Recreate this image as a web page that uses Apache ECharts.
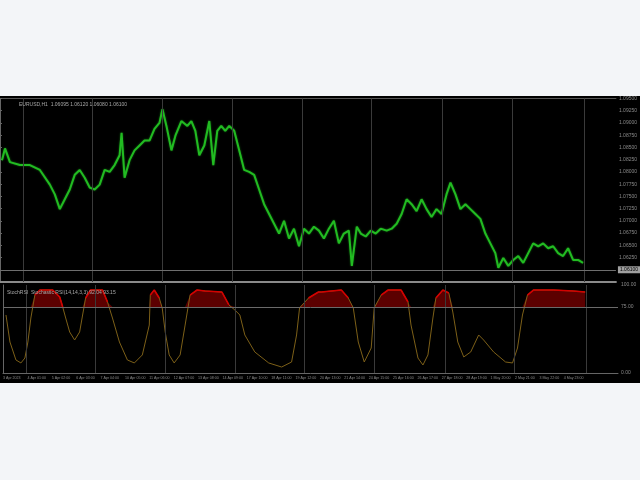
<!DOCTYPE html>
<html>
<head>
<meta charset="utf-8">
<script src="https://cdn.jsdelivr.net/npm/echarts@6/dist/echarts.min.js"></script>
<style>
  html, body { margin:0; padding:0; width:640px; height:480px; background:#f3f5f8; overflow:hidden; }
  #chart { position:absolute; left:0; top:96px; width:640px; height:287px; background:#000; }
</style>
</head>
<body>
<div id="chart"></div>
<script>
// ---- price window (bar number, close) ----
const bars = [2,5,10,20,30,40,50,55,60,65,70,75,80,85,90,95,100,105,110,115,120,122,125,130,135,140,145,150,155,160,163,167,172,176,182,188,192,196,200,205,210,214,218,222,226,230,235,240,245,250,255,260,265,270,275,280,285,290,295,300,305,310,315,320,325,330,335,340,345,350,353,358,362,367,372,377,382,388,393,398,403,408,413,418,423,428,433,438,443,448,452,457,462,467,472,477,482,487,492,497,500,505,510,515,520,525,530,535,540,545,550,555,560,565,570,575,580,585];
const closes = [1.0824,1.0848,1.0820,1.0814,1.0814,1.0804,1.0774,1.0754,1.0724,1.0744,1.0764,1.0794,1.0804,1.0788,1.0768,1.0764,1.0774,1.0804,1.0800,1.0814,1.0834,1.0880,1.0788,1.0824,1.0844,1.0854,1.0864,1.0864,1.0888,1.0900,1.0928,1.0894,1.0844,1.0874,1.0904,1.0894,1.0904,1.0884,1.0834,1.0854,1.0904,1.0814,1.0884,1.0894,1.0884,1.0894,1.0884,1.0844,1.0804,1.0800,1.0794,1.0764,1.0734,1.0714,1.0694,1.0674,1.0700,1.0664,1.0684,1.0648,1.0684,1.0674,1.0688,1.0680,1.0664,1.0684,1.0700,1.0654,1.0674,1.0680,1.0608,1.0688,1.0674,1.0668,1.0680,1.0674,1.0684,1.0680,1.0684,1.0694,1.0714,1.0744,1.0734,1.0720,1.0744,1.0724,1.0708,1.0724,1.0714,1.0754,1.0778,1.0754,1.0724,1.0734,1.0724,1.0714,1.0704,1.0674,1.0654,1.0634,1.0604,1.0624,1.0608,1.0620,1.0628,1.0614,1.0634,1.0654,1.0648,1.0654,1.0644,1.0648,1.0634,1.0628,1.0644,1.0620,1.0620,1.0614];
const bidPrice = 1.0610;

// ---- oscillator window ----
const oscBars = [3,7,13,18,22,25,28,32,37,50,57,60,63,67,72,77,80,83,88,100,105,110,117,125,132,140,147,148,152,157,160,163,167,172,178,183,188,195,203,220,227,233,238,243,253,267,280,290,295,298,307,317,320,340,347,352,357,363,370,373,380,387,400,407,410,417,422,427,432,435,442,448,452,457,463,470,478,483,493,505,512,517,522,527,533,553,573,585];
const oscValues = [65.9,35.2,14.8,11.4,17.0,35.2,62.5,88.6,94.3,94.3,86.4,75.0,62.5,46.6,37.5,46.6,65.9,85.2,94.3,94.3,80.7,62.5,35.2,14.8,11.4,20.5,54.5,88.6,94.3,85.2,73.9,46.6,20.5,11.4,20.5,54.5,88.6,94.3,93.2,92.0,77.3,71.6,65.9,43.2,23.9,11.4,6.8,12.5,43.2,73.9,85.2,92.0,92.0,94.3,85.2,73.9,35.2,12.5,28.4,73.9,88.6,94.3,94.3,80.7,54.5,17.0,9.1,20.5,62.5,85.2,94.3,90.9,69.3,35.2,18.2,23.9,43.2,37.5,23.9,12.5,11.4,28.4,65.9,88.6,94.3,94.3,93.2,92.0];
const oscLevel = 75;

// ---- axes / labels ----
const gridTimes = [23,93,163,233,303,373,444,514,586];
const timeLabels = ['3 Apr 2023','4 Apr 01:00','5 Apr 02:00','6 Apr 03:00','7 Apr 04:00','10 Apr 05:00','11 Apr 06:00','12 Apr 07:00','13 Apr 08:00','14 Apr 09:00','17 Apr 10:00','18 Apr 11:00','19 Apr 12:00','20 Apr 13:00','21 Apr 14:00','24 Apr 15:00','25 Apr 16:00','26 Apr 17:00','27 Apr 18:00','28 Apr 19:00','1 May 20:00','2 May 21:00','3 May 22:00','4 May 23:00'];
const mainTitle = 'EURUSD,H1  1.06095 1.06120 1.06080 1.06100';
const oscTitle = 'StochRSI  Stochastic RSI(14,14,3,3) 92.04 93.15';

const pricePts = bars.map((b, i) => [b, closes[i]]);
const oscPts = oscBars.map((b, i) => [b, oscValues[i]]);
const oscFill = oscBars.map((b, i) => [b, Math.max(oscValues[i], oscLevel)]);
const oscRed = oscBars.map((b, i) => [b, oscValues[i] >= oscLevel ? oscValues[i] : null]);

const chart = echarts.init(document.getElementById('chart'), null, {renderer: 'canvas'});
const FONT = 'Liberation Sans';
const vlines = gridTimes.map(t => ({xAxis: t}));

chart.setOption({
  backgroundColor: '#000',
  animation: false,
  title: [
    {text: mainTitle, left: 14, top: 1, textStyle: {color: '#a8a8a8', fontSize: 5, fontWeight: 'normal', fontFamily: FONT}},
    {text: oscTitle, left: 2, top: 189, textStyle: {color: '#a8a8a8', fontSize: 5, fontWeight: 'normal', fontFamily: FONT}}
  ],
  grid: [
    {left: 0, right: 22, top: 1, height: 185},
    {left: 0, right: 22, top: 189, height: 88}
  ],
  xAxis: [
    {gridIndex: 0, type: 'value', min: 0, max: 618, position: 'bottom',
     axisLine: {show: true, lineStyle: {color: '#8a8a8a', width: 2}}, axisTick: {show: false}, axisLabel: {show: false}, splitLine: {show: false}},
    {gridIndex: 0, type: 'value', min: 0, max: 618, position: 'top',
     axisLine: {show: true, lineStyle: {color: '#555', width: 1}}, axisTick: {show: false}, axisLabel: {show: false}, splitLine: {show: false}},
    {gridIndex: 1, type: 'value', min: 0, max: 618, interval: 24.5, position: 'bottom',
     axisLine: {show: true, lineStyle: {color: '#666', width: 1}}, axisTick: {show: false}, splitLine: {show: false},
     axisLabel: {show: true, color: '#8a8a8a', fontSize: 3.6, fontFamily: FONT, align: 'left', margin: 3, showMaxLabel: false,
       formatter: v => timeLabels[Math.round(v / 24.5)] || ''}}
  ],
  yAxis: [
    {gridIndex: 0, type: 'value', min: 1.0575, max: 1.0950, interval: 0.0025, position: 'right',
     axisLine: {show: true, lineStyle: {color: '#666'}}, axisTick: {show: true, length: 2, lineStyle: {color: '#666'}},
     splitLine: {show: false},
     axisLabel: {color: '#8a8a8a', fontSize: 5, fontFamily: FONT, margin: 3, showMinLabel: false, formatter: v => v.toFixed(5)}},
    {gridIndex: 1, type: 'value', min: 0, max: 100, interval: 25, position: 'right',
     axisLine: {show: true, lineStyle: {color: '#666'}}, axisTick: {show: false},
     splitLine: {show: false},
     axisLabel: {color: '#8a8a8a', fontSize: 5, fontFamily: FONT, margin: 3, formatter: v => (v === 25 || v === 50) ? '' : v.toFixed(2)}}
  ],
  series: [
    {type: 'line', xAxisIndex: 0, yAxisIndex: 0, data: pricePts, symbol: 'none',
     lineStyle: {color: '#22bb22', width: 2, shadowColor: 'rgba(30,190,30,0.6)', shadowBlur: 2},
     markLine: {silent: true, symbol: 'none', animation: false,
       data: vlines.map(d => Object.assign({lineStyle: {color: '#3a3a3a', width: 1, type: 'solid'}, label: {show: false}}, d)).concat([
         {yAxis: bidPrice, lineStyle: {color: '#6e6e6e', width: 1, type: 'solid'},
          label: {show: true, position: 'end', formatter: bidPrice.toFixed(5), color: '#000', backgroundColor: '#a0a0a0', fontSize: 5, fontFamily: FONT, padding: [1, 2], distance: 2}}
       ])}},
    {type: 'line', xAxisIndex: 2, yAxisIndex: 1, data: oscFill, symbol: 'none', z: 2,
     lineStyle: {width: 0}, areaStyle: {color: '#5c0000', opacity: 1, origin: oscLevel}},
    {type: 'line', xAxisIndex: 2, yAxisIndex: 1, data: oscPts, symbol: 'none', z: 3,
     lineStyle: {color: '#7d6018', width: 1},
     markLine: {silent: true, symbol: 'none', animation: false, label: {show: false},
       data: vlines.map(d => Object.assign({lineStyle: {color: '#3a3a3a', width: 1, type: 'solid'}}, d)).concat([
         {yAxis: oscLevel, lineStyle: {color: '#6a6a6a', width: 1, type: 'solid'}}
       ])}},
    {type: 'line', xAxisIndex: 2, yAxisIndex: 1, data: oscRed, symbol: 'none', z: 4, connectNulls: false,
     lineStyle: {color: '#d40000', width: 1.6}}
  ]
});
</script>
</body>
</html>
